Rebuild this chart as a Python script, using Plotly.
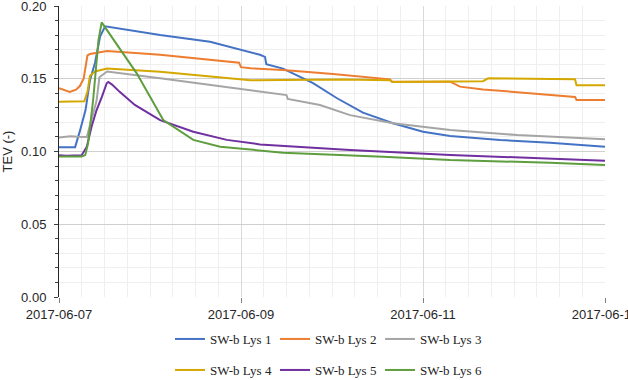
import plotly.graph_objects as go

names = ["SW-b Lys 1", "SW-b Lys 2", "SW-b Lys 3", "SW-b Lys 4", "SW-b Lys 5", "SW-b Lys 6"]
colors = ["#4472C4", "#ED7D31", "#A5A5A5", "#D4A800", "#7030A0", "#5E9E3E"]

lys1_t = ["2017-06-07 00:00", "2017-06-07 04:15", "2017-06-07 05:30", "2017-06-07 07:00", "2017-06-07 08:10",
          "2017-06-07 09:30", "2017-06-07 10:50", "2017-06-07 12:10", "2017-06-08 02:40", "2017-06-08 15:50",
          "2017-06-09 05:00", "2017-06-09 06:20", "2017-06-09 06:40", "2017-06-09 11:05", "2017-06-09 19:00",
          "2017-06-10 01:20", "2017-06-10 08:10", "2017-06-10 16:05", "2017-06-11 00:00", "2017-06-11 07:10",
          "2017-06-11 20:20", "2017-06-12 09:30", "2017-06-13 00:00"]
lys1_v = [0.103, 0.103, 0.114, 0.1285, 0.149, 0.161, 0.179, 0.186, 0.180, 0.1755,
          0.1665, 0.165, 0.160, 0.157, 0.147, 0.1366, 0.1267, 0.1194, 0.1136, 0.1107,
          0.1079, 0.106, 0.1033]

lys2_t = ["2017-06-07 00:00", "2017-06-07 01:30", "2017-06-07 02:50", "2017-06-07 04:30", "2017-06-07 05:30",
          "2017-06-07 06:30", "2017-06-07 07:30", "2017-06-07 08:10", "2017-06-07 12:40", "2017-06-08 02:40",
          "2017-06-08 15:50", "2017-06-08 23:30", "2017-06-09 00:00", "2017-06-09 02:30", "2017-06-09 11:05",
          "2017-06-10 00:15", "2017-06-10 15:20", "2017-06-10 15:40", "2017-06-11 07:10", "2017-06-11 09:45",
          "2017-06-11 15:50", "2017-06-12 09:30", "2017-06-12 16:05", "2017-06-12 16:30", "2017-06-13 00:00"]
lys2_v = [0.1436, 0.142, 0.141, 0.1425, 0.145, 0.150, 0.166, 0.167, 0.169, 0.1665,
          0.163, 0.161, 0.158, 0.1572, 0.156, 0.1533, 0.1496, 0.1482, 0.148, 0.1446,
          0.1427, 0.1388, 0.1375, 0.1354, 0.1354]

lys3_t = ["2017-06-07 00:00", "2017-06-07 01:30", "2017-06-07 03:00", "2017-06-07 05:00", "2017-06-07 07:20",
          "2017-06-07 09:00", "2017-06-07 09:55", "2017-06-07 10:40", "2017-06-07 12:40", "2017-06-08 02:40",
          "2017-06-08 15:50", "2017-06-09 02:30", "2017-06-09 12:00", "2017-06-09 12:20", "2017-06-09 20:50",
          "2017-06-10 04:45", "2017-06-10 16:05", "2017-06-11 07:10", "2017-06-12 00:50", "2017-06-13 00:00"]
lys3_v = [0.1097, 0.1103, 0.1105, 0.1102, 0.110, 0.126, 0.135, 0.151, 0.155, 0.1503,
          0.1457, 0.1423, 0.1388, 0.1361, 0.132, 0.125, 0.1194, 0.1148, 0.1113, 0.1084]

lys4_t = ["2017-06-07 00:00", "2017-06-07 06:40", "2017-06-07 07:30", "2017-06-07 08:10", "2017-06-07 09:30",
          "2017-06-07 12:40", "2017-06-08 02:40", "2017-06-08 15:50", "2017-06-09 02:30", "2017-06-10 03:00",
          "2017-06-10 15:20", "2017-06-10 16:00", "2017-06-11 08:50", "2017-06-11 15:50", "2017-06-11 17:10",
          "2017-06-12 09:00", "2017-06-12 16:05", "2017-06-12 16:30", "2017-06-13 00:00"]
lys4_v = [0.1342, 0.1345, 0.141, 0.152, 0.155, 0.157, 0.1549, 0.1514, 0.149, 0.1495,
          0.149, 0.1478, 0.148, 0.1483, 0.1503, 0.150, 0.1496, 0.1455, 0.1455]

lys5_t = ["2017-06-07 00:00", "2017-06-07 02:00", "2017-06-07 06:00", "2017-06-07 07:20", "2017-06-07 08:35",
          "2017-06-07 09:55", "2017-06-07 11:20", "2017-06-07 12:35", "2017-06-07 13:00", "2017-06-07 14:00",
          "2017-06-07 16:00", "2017-06-07 17:55", "2017-06-07 20:00", "2017-06-08 02:40", "2017-06-08 11:25",
          "2017-06-08 20:15", "2017-06-09 05:00", "2017-06-10 04:45", "2017-06-11 07:10", "2017-06-13 00:00"]
lys5_v = [0.0975, 0.097, 0.0975, 0.1033, 0.117, 0.1285, 0.1377, 0.1469, 0.1478, 0.146,
          0.141, 0.1366, 0.132, 0.1216, 0.1136, 0.108, 0.1049, 0.101, 0.0976, 0.0937]

lys6_t = ["2017-06-07 00:00", "2017-06-07 06:00", "2017-06-07 06:55", "2017-06-07 07:40", "2017-06-07 09:00",
          "2017-06-07 10:25", "2017-06-07 11:15", "2017-06-07 16:05", "2017-06-07 20:30", "2017-06-08 03:30",
          "2017-06-08 11:25", "2017-06-08 18:30", "2017-06-09 05:00", "2017-06-09 11:05", "2017-06-10 13:25",
          "2017-06-11 07:10", "2017-06-12 09:30", "2017-06-13 00:00"]
lys6_v = [0.0965, 0.0965, 0.0975, 0.1056, 0.1354, 0.1766, 0.1888, 0.1704, 0.1537, 0.1216,
          0.108, 0.1033, 0.1006, 0.0992, 0.0964, 0.0941, 0.0923, 0.0907]

series_t = [lys1_t, lys2_t, lys3_t, lys4_t, lys5_t, lys6_t]
series_v = [lys1_v, lys2_v, lys3_v, lys4_v, lys5_v, lys6_v]

fig = go.Figure()
for i, (n, t, v, c) in enumerate(zip(names, series_t, series_v, colors)):
    fig.add_trace(go.Scatter(
        x=t, y=v, name=n, mode="lines",
        line=dict(color=c, width=2),
        legend="legend" if i < 3 else "legend2",
    ))

legend_common = dict(
    orientation="h", xanchor="left", yanchor="middle",
    xref="container", yref="container",
    font=dict(family="Liberation Serif", size=13, color="#222222"),
    entrywidth=60, entrywidthmode="pixels",
    bgcolor="rgba(0,0,0,0)", itemwidth=30, tracegroupgap=0,
)

fig.update_layout(
    width=628, height=380,
    margin=dict(l=59, r=23, t=6, b=83, autoexpand=False),
    paper_bgcolor="white", plot_bgcolor="white",
    font=dict(family="Liberation Sans", size=13, color="#404040"),
    showlegend=True,
    legend=dict(x=0.2707, y=0.1079, **legend_common),
    legend2=dict(x=0.2707, y=0.0263, **legend_common),
    xaxis=dict(
        type="date",
        range=["2017-06-07 00:00", "2017-06-13 00:00"],
        tick0="2017-06-07", dtick=2 * 86400000,
        tickformat="%Y-%m-%d",
        ticks="outside", ticklen=5, tickcolor="#808080",
        ticklabeloverflow="allow",
        showgrid=True, gridcolor="#D9D9D9", gridwidth=1,
        minor=dict(dtick=6 * 3600000, showgrid=True, gridcolor="#EFEFEF", ticks=""),
        showline=False, zeroline=False, automargin=False,
        tickfont=dict(family="Liberation Sans", size=13, color="#262626"),
    ),
    yaxis=dict(
        range=[0, 0.20001], tickmode="linear", tick0=0, dtick=0.05, tickformat=".2f",
        ticks="outside", ticklen=4, tickcolor="#404040",
        ticklabeloverflow="allow", ticklabelstandoff=5,
        showgrid=True, gridcolor="#D0D0D0", gridwidth=1,
        minor=dict(dtick=0.01, showgrid=True, gridcolor="#EFEFEF", ticks="outside", ticklen=3, tickcolor="#404040"),
        showline=True, linecolor="#262626", linewidth=1,
        zeroline=False, automargin=False,
        title=dict(text="TEV (-)", standoff=8, font=dict(family="Liberation Sans", size=13, color="#262626")),
        tickfont=dict(family="Liberation Sans", size=13, color="#262626"),
    ),
)

fig.write_html("out.html")
